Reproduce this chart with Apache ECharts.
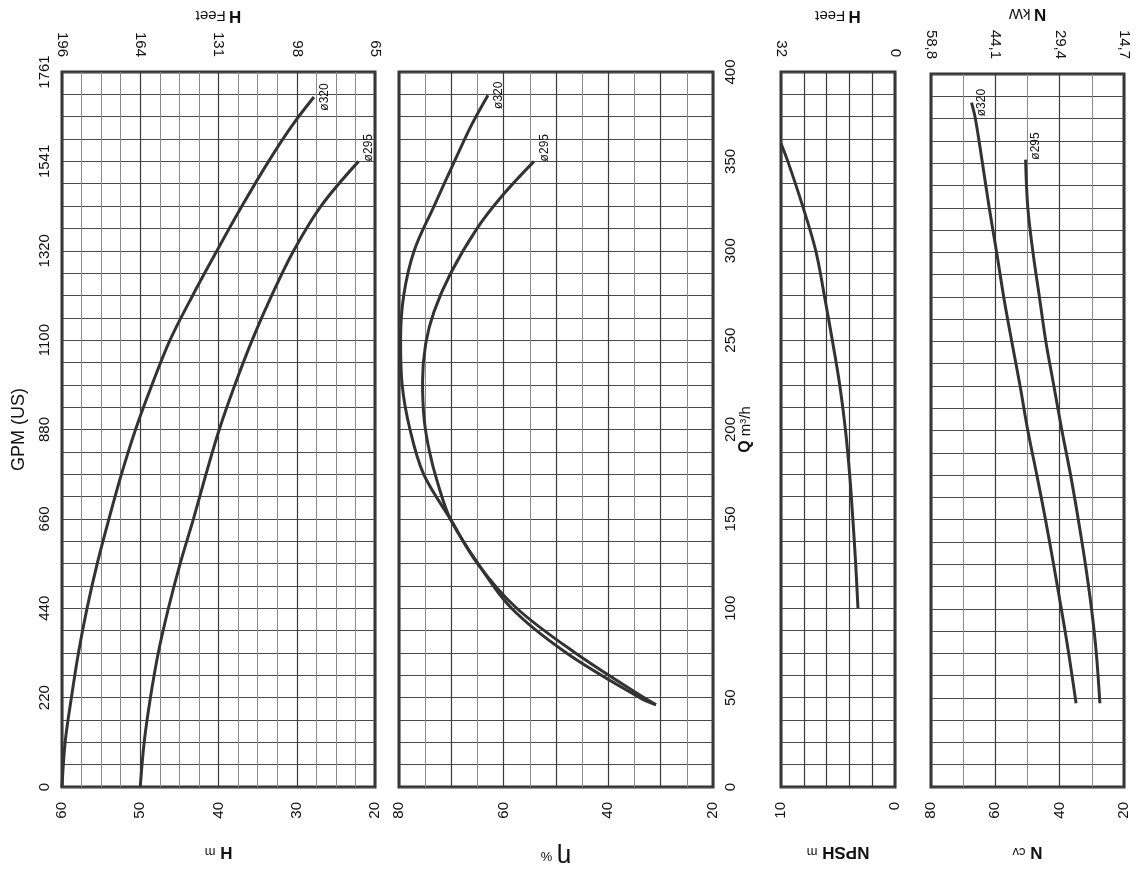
<!DOCTYPE html>
<html>
<head>
<meta charset="utf-8">
<script src="https://cdn.jsdelivr.net/npm/echarts@6/dist/echarts.min.js"></script>
<style>
  html, body { margin: 0; padding: 0; background: #fff; }
  #main { width: 1136px; height: 876px; }
</style>
</head>
<body>
<div id="main"></div>
<script>
// sheet is printed turned a quarter: Q runs up the page, values run right-to-left
var FONT = 'Liberation Sans, Arial, sans-serif';

// flow axis
var qTicks = [0, 50, 100, 150, 200, 250, 300, 350, 400];
var gpmLabels = ['0', '220', '440', '660', '880', '1100', '1320', '1541', '1761'];

// head / efficiency / npsh / power tick labels (metric + imperial)
var hTicks = [60, 50, 40, 30, 20];
var hFeetLabels = ['196', '164', '131', '98', '65'];
var etaTicks = [80, 60, 40, 20];
var npshTicks = [10, 0];
var npshFeetLabels = ['32', '0'];
var nTicks = [80, 60, 40, 20];
var nKwLabels = ['58,8', '44,1', '29,4', '14,7'];

// H (m) curves
var qH320 = [0, 25, 50, 75, 100, 125, 150, 175, 200, 225, 250, 275, 300, 325, 350, 370, 386];
var h320 = [60, 59.6, 58.8, 57.9, 56.8, 55.5, 54.0, 52.4, 50.6, 48.5, 46.2, 43.3, 40.2, 37.0, 33.6, 30.6, 27.8];
var qH295 = [0, 25, 50, 75, 100, 125, 150, 175, 200, 225, 250, 275, 300, 325, 350];
var h295 = [50, 49.5, 48.7, 47.7, 46.4, 44.9, 43.2, 41.6, 39.9, 37.9, 35.7, 33.2, 30.4, 26.9, 22.1];

// efficiency (%)
var qEta320 = [46, 50, 75, 100, 125, 150, 175, 200, 225, 250, 275, 300, 325, 350, 370, 387];
var eta320 = [30.9, 33.2, 46.3, 57.5, 65.0, 70.2, 75.3, 77.9, 79.4, 79.7, 79.1, 77.1, 73.3, 69.4, 66.2, 63.0];
var qEta295 = [46, 50, 75, 100, 125, 150, 170, 188, 206, 227, 248, 266, 287, 312, 331, 350];
var eta295 = [30.9, 34.0, 48.0, 58.5, 64.9, 70.2, 72.6, 74.2, 75.2, 75.5, 74.9, 73.3, 70.2, 65.2, 60.2, 54.2];

// NPSH (m)
var qNpsh = [100, 125, 150, 175, 200, 225, 250, 275, 300, 325, 350, 360];
var npsh = [3.25, 3.45, 3.7, 3.98, 4.35, 4.85, 5.5, 6.2, 6.95, 8.1, 9.4, 10.0];

// power (cv)
var qN320 = [47, 75, 100, 125, 150, 175, 200, 225, 250, 275, 300, 325, 350, 375, 384];
var n320 = [34.9, 37.2, 39.5, 41.9, 44.4, 47.1, 49.9, 52.3, 54.9, 57.4, 59.6, 61.9, 64.0, 66.2, 67.4];
var qN295 = [47, 75, 100, 125, 150, 175, 200, 225, 250, 275, 300, 325, 352];
var n295 = [27.5, 28.6, 30.1, 32.0, 34.2, 36.6, 39.3, 41.8, 44.3, 46.3, 48.3, 49.9, 50.6];

var TOP = 72, HEIGHT = 715;
var MAJOR = '#3a3a3a', MINOR = '#8a8a8a', HLINE = '#4a4a4a';

function pairs(vals, qs) {
  return qs.map(function (q, i) { return [vals[i], q]; });
}

function lookup(ticks, labels) {
  return function (v) {
    var i = ticks.indexOf(v);
    return i < 0 ? '' : labels[i];
  };
}

function only(ticks) {
  return function (v) { return ticks.indexOf(v) < 0 ? '' : String(v); };
}

function grid(left, width) {
  return { left: left, top: TOP, width: width, height: HEIGHT, show: true,
           borderColor: '#333', borderWidth: 3, backgroundColor: 'transparent' };
}

// bottom value axis (carries the vertical grid lines)
function valueAxis(gi, min, max, interval, minorSplit, fmt, name) {
  return {
    type: 'value', gridIndex: gi, position: 'bottom', inverse: true,
    min: min, max: max, interval: interval,
    axisLine: { show: false }, axisTick: { show: false },
    axisLabel: { rotate: 90, margin: 15, fontSize: 15, color: '#111', formatter: fmt },
    splitLine: { show: true, lineStyle: { color: MAJOR, width: 1.2 } },
    minorTick: { show: false, splitNumber: minorSplit },
    minorSplitLine: { show: minorSplit > 1, lineStyle: { color: MINOR, width: 1 } },
    name: name, nameLocation: 'middle', nameGap: 56, nameRotate: 180,
    nameTextStyle: { fontSize: 17, color: '#111', rich: {
      b: { fontSize: 17, fontWeight: 'bold', color: '#111' },
      s: { fontSize: 13, color: '#111' },
      g: { fontSize: 26, color: '#111' } } }
  };
}

function topAxis(gi, min, max, interval, fmt, name) {
  return {
    type: 'value', gridIndex: gi, position: 'top', inverse: true,
    min: min, max: max, interval: interval,
    axisLine: { show: false }, axisTick: { show: false }, splitLine: { show: false },
    axisLabel: { rotate: 90, margin: 15, fontSize: 15, color: '#111', formatter: fmt },
    name: name, nameLocation: 'middle', nameGap: 48, nameRotate: 180,
    nameTextStyle: { rich: {
      b: { fontSize: 17, fontWeight: 'bold', color: '#111' },
      s: { fontSize: 15, color: '#111' } } }
  };
}

function flowAxis(gi, position, showLabel, fmt) {
  return {
    type: 'value', gridIndex: gi, position: position,
    min: 0, max: 400, interval: 50,
    axisLine: { show: false }, axisTick: { show: false },
    axisLabel: { show: showLabel, rotate: 90, margin: 10, fontSize: 15, color: '#111', formatter: fmt,
      rich: { q: { fontSize: 16, fontWeight: 'bold', color: '#111' },
              u: { fontSize: 15, color: '#111' } } },
    splitLine: { show: true, lineStyle: { color: HLINE, width: 1 } },
    minorTick: { show: false, splitNumber: 4 },
    minorSplitLine: { show: true, lineStyle: { color: HLINE, width: 1 } }
  };
}

function curve(xi, yi, vals, qs, label, align) {
  var d = pairs(vals, qs);
  var last = d[d.length - 1];
  return {
    type: 'line', xAxisIndex: xi, yAxisIndex: yi, data: d,
    smooth: 0.35, symbol: 'none', z: 5,
    lineStyle: { color: '#333', width: 3 },
    markPoint: label ? {
      symbol: 'circle', symbolSize: 1, itemStyle: { color: 'transparent' },
      label: { show: true, formatter: label, position: 'right', distance: 10,
               rotate: 90, align: align, verticalAlign: 'middle', fontSize: 12, color: '#111' },
      data: [{ coord: last }]
    } : undefined
  };
}

var chart = echarts.init(document.getElementById('main'), null, { renderer: 'canvas' });

var option = {
  animation: false,
  backgroundColor: '#fff',
  textStyle: { fontFamily: FONT, color: '#111' },
  grid: [grid(62, 313), grid(399, 314), grid(781, 114), grid(931, 193)],
  xAxis: [
    valueAxis(0, 20, 60, 10, 4, only(hTicks), '{b|H} {s|m}'),
    topAxis(0, 20, 60, 10, lookup(hTicks, hFeetLabels), '{b|H} {s|Feet}'),
    valueAxis(1, 20, 80, 10, 2, only(etaTicks), '{g|η} {s|%}'),
    valueAxis(2, 0, 10, 2, 1, only(npshTicks), '{b|NPSH} {s|m}'),
    topAxis(2, 0, 10, 2, lookup(npshTicks, npshFeetLabels), '{b|H} {s|Feet}'),
    valueAxis(3, 20, 80, 20, 2, only(nTicks), '{b|N} {s|cv}'),
    topAxis(3, 20, 80, 20, lookup(nTicks, nKwLabels), '{b|N} {s|kW}')
  ],
  yAxis: [
    Object.assign(flowAxis(0, 'left', true, lookup(qTicks, gpmLabels)), {
      name: 'GPM (US)', nameLocation: 'middle', nameGap: 34, nameRotate: 90,
      nameTextStyle: { fontSize: 18, color: '#111' }
    }),
    flowAxis(1, 'right', true, function (v) {
      return v === 200 ? '200\n{q|Q} {u|m³/h}' : String(v);
    }),
    flowAxis(2, 'left', false),
    flowAxis(3, 'left', false)
  ],
  series: [
    curve(0, 0, h320, qH320, 'ø320', 'center'),
    curve(0, 0, h295, qH295, 'ø295', 'left'),
    curve(2, 1, eta320, qEta320, 'ø320', 'center'),
    curve(2, 1, eta295, qEta295, 'ø295', 'left'),
    curve(3, 2, npsh, qNpsh, null),
    curve(5, 3, n320, qN320, 'ø320', 'center'),
    curve(5, 3, n295, qN295, 'ø295', 'left')
  ]
};

chart.setOption(option);
</script>
</body>
</html>
